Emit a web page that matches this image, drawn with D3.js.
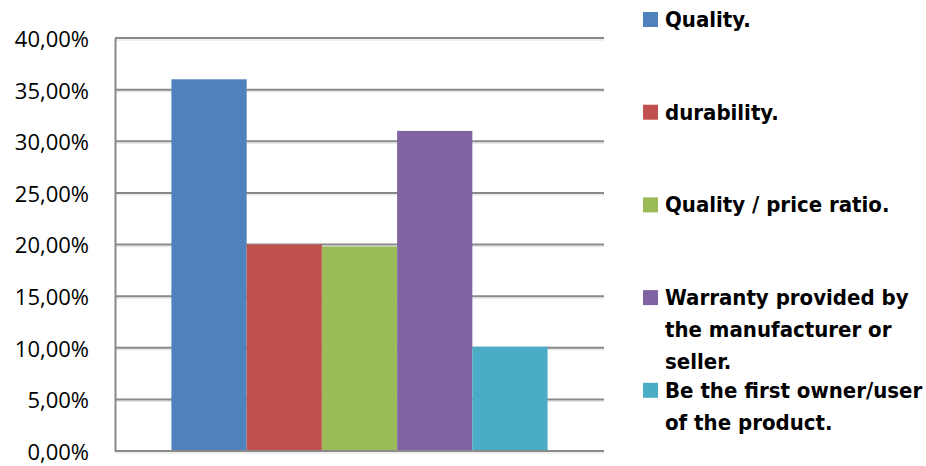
<!DOCTYPE html>
<html>
<head>
<meta charset="utf-8">
<script src="https://cdn.jsdelivr.net/npm/d3@7"></script>
<style>
  body { margin: 0; background: #fff; }
  svg { display: block; }
</style>
</head>
<body>
<div class="chart"></div>
<script>
  // chart data
  const categories = ["Quality.", "durability.", "Quality / price ratio.",
    "Warranty provided by the manufacturer or seller.", "Be the first owner/user of the product."];
  const values = [0.36, 0.20, 0.198, 0.31, 0.101];
  const legendLines = [
    ["Quality."],
    ["durability."],
    ["Quality / price ratio."],
    ["Warranty provided by", "the manufacturer or", "seller."],
    ["Be the first owner/user", "of the product."]
  ];
  const yTicks = [0, 0.05, 0.10, 0.15, 0.20, 0.25, 0.30, 0.35, 0.40];
  const colors = ["#4f81bd", "#c0504d", "#9bbb59", "#8064a2", "#4bacc6"];

  const width = 926, height = 466;
  const plot = {left: 115, right: 604, top: 38, bottom: 451};

  const locale = d3.formatLocale({decimal: ",", thousands: ".", grouping: [3], currency: ["", "€"], percent: "%"});
  const pct = locale.format(".2%");

  const svg = d3.select(".chart").append("svg")
    .attr("width", width)
    .attr("height", height);

  // scales
  const x0 = d3.scaleBand()
    .domain(["all"])
    .range([plot.left, plot.right])
    .paddingInner(0)
    .paddingOuter(0.15);

  const x1 = d3.scaleBand()
    .domain(categories)
    .range([0, x0.bandwidth()]);

  const y = d3.scaleLinear()
    .domain([0, 0.4])
    .range([plot.bottom, plot.top]);

  // gridlines
  const grid = svg.append("g").attr("class", "grid");
  grid.selectAll("line.shadow")
    .data(yTicks)
    .join("line")
      .attr("class", "shadow")
      .attr("x1", plot.left)
      .attr("x2", plot.right)
      .attr("y1", d => y(d) + 2)
      .attr("y2", d => y(d) + 2)
      .attr("stroke", "#e0e0e0")
      .attr("stroke-width", 1);
  grid.selectAll("line.major")
    .data(yTicks)
    .join("line")
      .attr("class", "major")
      .attr("x1", plot.left)
      .attr("x2", plot.right)
      .attr("y1", d => y(d))
      .attr("y2", d => y(d))
      .attr("stroke", "#898989")
      .attr("stroke-width", 2);

  // bars
  svg.append("g")
    .selectAll("rect")
    .data(values)
    .join("rect")
      .attr("x", (d, i) => x0("all") + x1(categories[i]))
      .attr("y", d => y(d))
      .attr("width", x1.bandwidth())
      .attr("height", d => y(0) - y(d))
      .attr("fill", (d, i) => colors[i]);

  // y axis
  const yAxis = d3.axisLeft(y)
    .tickValues(yTicks)
    .tickFormat(pct)
    .tickSize(0)
    .tickPadding(26);

  const ya = svg.append("g")
    .attr("transform", "translate(" + plot.left + ",0)")
    .call(yAxis);
  ya.select(".domain")
    .attr("stroke", "#898989")
    .attr("stroke-width", 2);
  ya.selectAll("text")
    .attr("font-family", "'Open Sans', sans-serif")
    .attr("font-size", 22)
    .attr("fill", "#000")
    .attr("dy", "0.38em");

  // bottom axis line
  svg.append("line")
    .attr("x1", plot.left)
    .attr("x2", plot.right)
    .attr("y1", y(0))
    .attr("y2", y(0))
    .attr("stroke", "#898989")
    .attr("stroke-width", 2);

  // legend
  const legend = svg.append("g")
    .attr("font-family", "'DejaVu Sans Condensed', 'DejaVu Sans', sans-serif")
    .attr("font-weight", "bold")
    .attr("font-size", 22);

  const item = legend.selectAll("g")
    .data(categories)
    .join("g")
      .attr("transform", (d, i) => "translate(643," + (19 + i * 92.7) + ")");

  item.append("rect")
    .attr("x", 0)
    .attr("y", -7)
    .attr("width", 15)
    .attr("height", 15)
    .attr("fill", (d, i) => colors[i]);

  item.append("text")
    .attr("x", 22)
    .attr("y", 8)
    .selectAll("tspan")
    .data((d, i) => legendLines[i])
    .join("tspan")
      .attr("x", 22)
      .attr("dy", (d, j) => j === 0 ? 0 : 32)
      .text(d => d);
</script>
</body>
</html>
